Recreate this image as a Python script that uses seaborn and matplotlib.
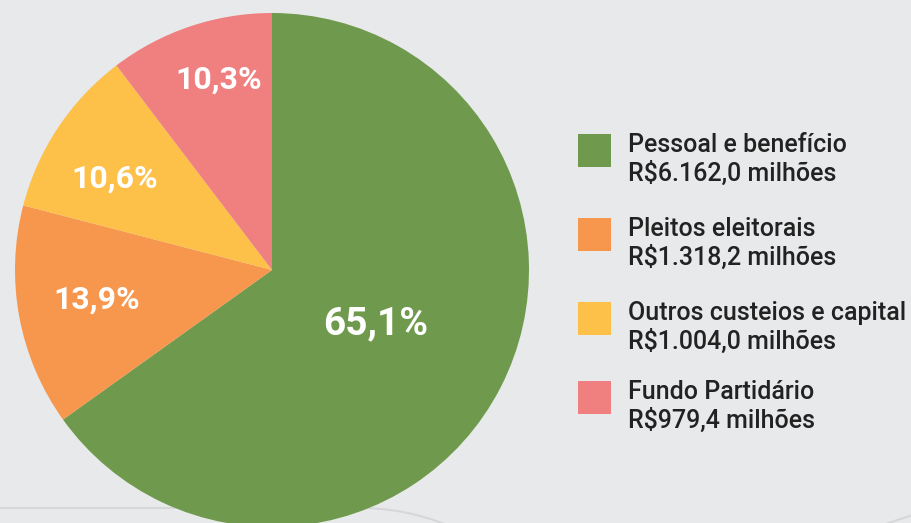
import seaborn as sns
import matplotlib.pyplot as plt
import numpy as np
from matplotlib.patches import Arc, Rectangle

# dados (R$ milhões)
categorias = ['Pessoal e benefício', 'Pleitos eleitorais',
              'Outros custeios e capital', 'Fundo Partidário']
valores = [6162.0, 1318.2, 1004.0, 979.4]
valores_txt = ['R$6.162,0 milhões', 'R$1.318,2 milhões',
               'R$1.004,0 milhões', 'R$979,4 milhões']
cores = ['#6f9a4d', '#f7964d', '#fdc049', '#f08080']

sns.set_theme(style='white', rc={'figure.facecolor': '#e8e9eb',
                                 'axes.facecolor': '#e8e9eb'})
plt.rcParams['font.family'] = ['Roboto', 'DejaVu Sans']

fig = plt.figure(figsize=(9.11, 5.23), dpi=100)
ax = fig.add_axes([0, 0, 1, 1])
ax.set_aspect('equal')
ax.axis('off')

# linhas decorativas do fundo
ax.plot([0, 360], [15, 15], color='#d6d7d9', lw=1.5, zorder=0)
ax.add_patch(Arc((360, 15 - 231.6), 463.2, 463.2, theta1=68, theta2=90,
                 color='#d6d7d9', lw=1.5, zorder=0))
ax.add_patch(Arc((1000, -300), 640, 640, theta1=98, theta2=112,
                 color='#d6d7d9', lw=1.5, zorder=0))

pal = sns.color_palette(cores)
wedges, textos, autotextos = ax.pie(
    valores, colors=pal, startangle=90, counterclock=False,
    center=(272, 253), radius=257, pctdistance=0.72,
    autopct=lambda p: f'{p:.1f}%'.replace('.', ','),
    textprops={'color': 'white', 'fontweight': 'bold', 'fontsize': 23},
    wedgeprops={'linewidth': 0})
ax.set_xlim(0, 911)
ax.set_ylim(0, 523)

# ajuste fino da posição dos rótulos (raio relativo e deslocamento angular)
dist = [0.455, 0.69, 0.71, 0.77]
desvio = [0, -1, 3.5, -3]
for w, t, d, dv in zip(wedges, autotextos, dist, desvio):
    ang = np.deg2rad((w.theta1 + w.theta2) / 2 + dv)
    t.set_position((272 + d * 257 * np.cos(ang), 253 + d * 257 * np.sin(ang)))
autotextos[0].set_fontsize(28)

# legenda (topo de cada quadrado, em pixels a partir do topo)
topos = [134, 218, 302, 381]
for cor, cat, vt, topo in zip(pal, categorias, valores_txt, topos):
    y = 523 - topo
    ax.add_patch(Rectangle((578, y - 33), 33, 33, color=cor, lw=0))
    ax.text(628, y - 18, cat, fontsize=18, fontweight='medium',
            color='#222222', va='baseline', ha='left')
    ax.text(628, y - 47, vt, fontsize=18, fontweight='medium',
            color='#222222', va='baseline', ha='left')

fig.savefig('out.png', dpi=100, facecolor=fig.get_facecolor())
